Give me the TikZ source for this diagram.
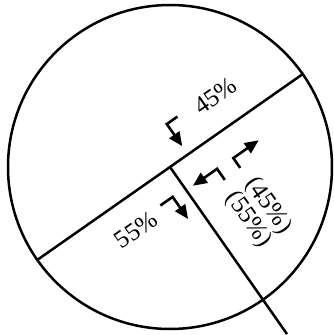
\documentclass[tikz,border=0pt]{standalone}
\usepackage{fontspec}
\setmainfont{Liberation Serif}
\usetikzlibrary{arrows.meta}
\begin{document}
\begin{tikzpicture}[x=1pt,y=1pt,
  line/.style={line width=2.5pt},
  bentarrow/.style={line width=2.6pt, -{Triangle[length=14pt,width=12pt]}},
  lbl/.style={font=\fontsize{25}{24}\selectfont, inner sep=0pt}]
\useasboundingbox (-170,-168) rectangle (163,167);
\coordinate (O) at (0,0);
\node[draw, circle, line width=2.5pt, minimum size=324pt, inner sep=0pt] (C) at (O) {};
\coordinate (E) at (-55:204);
\draw[line] (C.35) -- (C.215);
\draw[line] (O) -- (E);
\begin{scope}[rotate=35]
  % arrow 1
  \coordinate (a1s) at (35,37); \coordinate (a1c) at (22,37); \coordinate (a1t) at (22,10);
  \draw[bentarrow] (a1s) -- (a1c) -- (a1t);
  % arrow 4
  \coordinate (a4s) at (-30,-26); \coordinate (a4c) at (-15,-26); \coordinate (a4t) at (-15,-53);
  \draw[bentarrow] (a4s) -- (a4c) -- (a4t);
  % arrow 2
  \coordinate (a2s) at (57,-41); \coordinate (a2c) at (57,-29); \coordinate (a2t) at (88,-29);
  \draw[bentarrow] (a2s) -- (a2c) -- (a2t);
  % arrow 3
  \coordinate (a3s) at (37.5,-42); \coordinate (a3c) at (37.5,-28.5); \coordinate (a3t) at (8,-28.5);
  \draw[bentarrow] (a3s) -- (a3c) -- (a3t);
  % labels
  \node[lbl, rotate=35] (t45) at (78,32) {45\%};
  \node[lbl, rotate=35] (t55) at (-64,-32) {55\%};
  \node[lbl, rotate=-55, align=center] (tpair) at (46,-88) {(45\%)\\(55\%)};
\end{scope}
\end{tikzpicture}
\end{document}
